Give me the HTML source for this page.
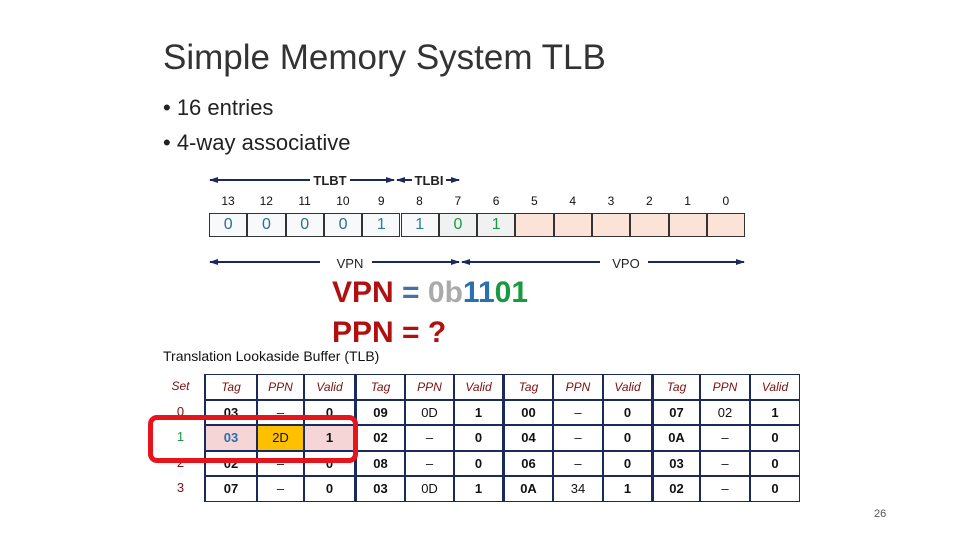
<!DOCTYPE html><html><head><meta charset="utf-8"><style>
body{margin:0;width:960px;height:540px;background:#fff;position:relative;overflow:hidden;font-family:"Liberation Sans",sans-serif}
.a{position:absolute}
.c{position:absolute;text-align:center;font-size:13px}
</style></head><body>
<div class="a" style="left:163px;top:38px;font-size:35px;color:#333">Simple Memory System TLB</div>
<div class="a" style="left:163px;top:95px;font-size:22px;color:#222">• 16 entries</div>
<div class="a" style="left:163px;top:130px;font-size:22px;color:#222">• 4-way associative</div>
<svg class="a" style="left:0;top:0" width="960" height="540">
<defs><marker id="m" markerUnits="userSpaceOnUse" markerWidth="9" markerHeight="8" refX="8" refY="4" orient="auto-start-reverse"><path d="M0,1 L9,4 L0,7z" fill="#1a2a5a"/></marker></defs>
<g stroke="#1a2a5a" stroke-width="2" fill="none">
<path d="M210,180 H310 M350,180 H394" marker-start="url(#m)" marker-end="url(#m)"/>
<path d="M397,180 H412 M446,180 H459" marker-start="url(#m)" marker-end="url(#m)"/>
<path d="M210,262 H320 M372,262 H459" marker-start="url(#m)" marker-end="url(#m)"/>
<path d="M462,262 H600 M648,262 H744" marker-start="url(#m)" marker-end="url(#m)"/>
</g>
<text x="330" y="185" font-size="13" text-anchor="middle" font-family="Liberation Sans" font-weight="bold" fill="#222">TLBT</text>
<text x="429" y="185" font-size="13" text-anchor="middle" font-family="Liberation Sans" font-weight="bold" fill="#222">TLBI</text>
<text x="350" y="268" font-size="13" text-anchor="middle" font-family="Liberation Sans" fill="#222">VPN</text>
<text x="626" y="268" font-size="13" text-anchor="middle" font-family="Liberation Sans" fill="#222">VPO</text>
</svg>
<div id="bits"></div>
<div class="a" style="left:332px;top:276px;font-size:30px;font-weight:bold;color:#b01010">VPN <span style="color:#4a6fa5">=</span> <span style="color:#aaa">0b</span><span style="color:#2a6fb0">11</span><span style="color:#1a9a40">01</span></div>
<div class="a" style="left:332px;top:316px;font-size:30px;font-weight:bold;color:#b01010">PPN = ?</div>
<div class="a" style="left:163px;top:348px;font-size:14px;color:#111">Translation Lookaside Buffer (TLB)</div>
<div id="tbl"></div>
<div class="a" style="left:148px;top:415px;width:200px;height:38px;border:5px solid #e8141c;border-radius:9px"></div>
<div class="a" style="left:874px;top:508px;font-size:11px;color:#555">26</div>
<script>
var h='';
for(var i=0;i<14;i++){var x=209+i*38.3;
var v=['0','0','0','0','1','1','0','1'][i];
var bg=i<6?'#f7f9fa':(i<8?'#f0f2f2':'#fbe4d7');
var col=i<4?'#2a6f8f':(i<6?'#2a7fa0':'#1a9a40');
h+='<div class="a" style="left:'+x+'px;top:213px;width:38.3px;height:24px;box-sizing:border-box;border:1px solid #333;background:'+bg+';text-align:center;font-size:16px;line-height:22px;color:'+col+'">'+(v||'')+'</div>';
h+='<div class="c" style="left:'+x+'px;top:194px;width:38px;font-size:12px;color:#111">'+(13-i)+'</div>';}
document.getElementById('bits').innerHTML=h;
var cx=[157,204,257,304,355,405,454,503,553,603,652,700,750,800];
var rows=[['Set','Tag','PPN','Valid','Tag','PPN','Valid','Tag','PPN','Valid','Tag','PPN','Valid'],
['0','03','–','0','09','0D','1','00','–','0','07','02','1'],
['1','03','2D','1','02','–','0','04','–','0','0A','–','0'],
['2','02','–','0','08','–','0','06','–','0','03','–','0'],
['3','07','–','0','03','0D','1','0A','34','1','02','–','0']];
var ry=[374,400,425,451,476,502];t='';
for(var r=0;r<5;r++)for(var c=0;c<13;c++){
var hh=ry[r+1]-ry[r];
var st='left:'+cx[c]+'px;top:'+ry[r]+'px;width:'+(cx[c+1]-cx[c])+'px;height:'+hh+'px;line-height:'+(hh-2)+'px;box-sizing:border-box;';
if(c>0)st+='border:1px solid #1a2a5a;';
if(c==1||c==4||c==7||c==10)st+='border-left:2px solid #1a2a5a;';
var col='#111';
if(r==0){col='#7a1010';st+='font-style:italic;font-size:12px;';}
else if(c==0)col=r==2?'#1a9a40':'#7a1010';
if(r==2&&c>=1&&c<=3){st+='background:'+(c==2?'#ffc000':'#f5d5d5')+';';if(c==1)col='#2a6fb0';}
if(r>0&&c>0&&(c%3==0||c%3==1))st+='font-weight:bold;';
t+='<div class="c" style="'+st+'color:'+col+'">'+rows[r][c]+'</div>';}
document.getElementById('tbl').innerHTML=t;
</script>
</body></html>
